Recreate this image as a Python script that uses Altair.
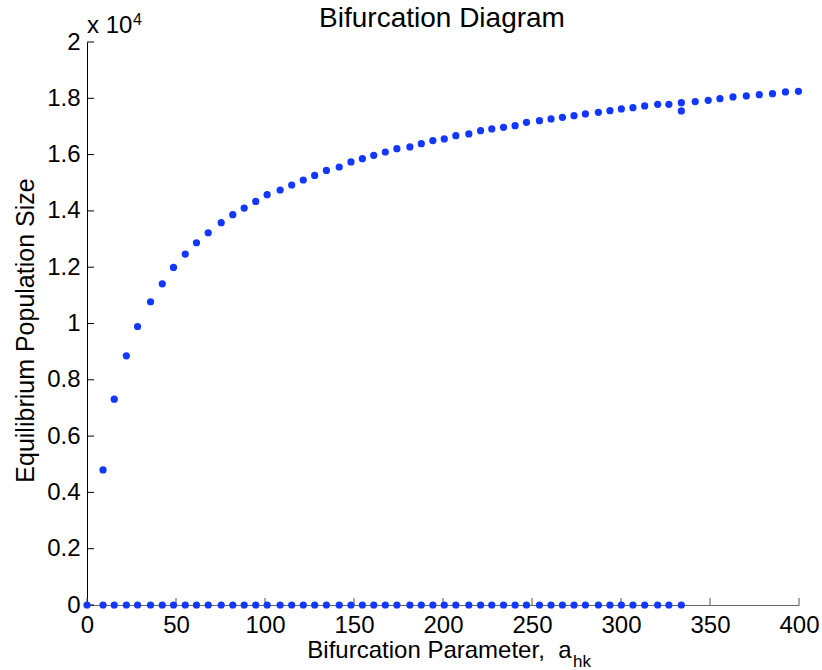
import altair as alt
import pandas as pd

# Bifurcation parameter a_hk for the sampled equilibria
upper_a = [9.0, 15.3, 22.1, 28.4, 35.7, 42.3, 48.6, 55.2, 61.5, 68.1,
           75.4, 81.9, 88.3, 94.8, 101.2, 108.5, 115.0, 121.5, 127.9, 134.5,
           141.7, 148.3, 154.7, 161.1, 167.6, 174.1, 181.4, 187.8, 194.3, 200.7,
           207.2, 214.5, 221.1, 227.4, 234.0, 240.5, 246.9, 254.2, 260.7, 267.1,
           273.6, 280.0, 287.3, 293.8, 300.2, 306.7, 313.3, 320.6, 326.9, 333.9,
           341.7, 349.0, 355.6, 362.9, 370.4, 377.7, 385.1, 392.4, 399.7]

# Non-trivial equilibrium population size
upper_pop = [4800, 7313, 8852, 9893, 10772, 11411, 11991, 12467, 12869, 13224,
             13580, 13864, 14102, 14337, 14575, 14742, 14920, 15098, 15261, 15439,
             15560, 15738, 15855, 15973, 16093, 16210, 16271, 16388, 16500, 16555,
             16673, 16733, 16850, 16911, 16968, 17028, 17146, 17206, 17266, 17323,
             17383, 17444, 17501, 17561, 17622, 17668, 17728, 17785, 17785, 17846,
             17882, 17928, 17988, 18048, 18084, 18130, 18165, 18225, 18248]

# Trivial (extinction) equilibrium, present up to a_hk ~ 334
lower_a = [0.0] + upper_a[:50]
lower_pop = [0] * len(lower_a)

# Extra equilibrium found near the end of the trivial branch
extra_a = [333.9]
extra_pop = [17550]

x_ticks = [0, 50, 100, 150, 200, 250, 300, 350, 400]
y_ticks = [0, 2000, 4000, 6000, 8000, 10000, 12000, 14000, 16000, 18000, 20000]

FONT = "Liberation Sans"
BLUE = "#1238ff"
W, H = 712, 563

points = pd.DataFrame({
    "a": upper_a + lower_a + extra_a,
    "pop": upper_pop + lower_pop + extra_pop,
})

x_scale = alt.Scale(domain=[0, 400], nice=False, zero=False)
y_scale = alt.Scale(domain=[0, 20000], nice=False)

dots = alt.Chart(points).mark_circle(size=52, opacity=1, color=BLUE).encode(
    x=alt.X("a:Q", scale=x_scale,
            axis=alt.Axis(values=x_ticks, title="Bifurcation Parameter,\u00a0\u00a0a",
                          titleFont=FONT, titleFontSize=24, titleFontWeight="normal",
                          titleColor="black", titleX=484, titleY=52,
                          titleAlign="right", titleBaseline="alphabetic",
                          labelFont=FONT, labelFontSize=24, labelColor="black",
                          labelPadding=8, labelFlush=False, labelOverlap=False,
                          tickSize=0, grid=False, domainColor="#666666",
                          domainWidth=1)),
    y=alt.Y("pop:Q", scale=y_scale,
            axis=alt.Axis(values=y_ticks, title="Equilibrium Population Size",
                          titleFont=FONT, titleFontSize=25, titleFontWeight="normal",
                          titleColor="black", titleX=-54, titleY=288,
                          titleAngle=270, titleAlign="center",
                          titleBaseline="alphabetic",
                          labelExpr="format(datum.value / 10000, '.1~f')",
                          labelFont=FONT, labelFontSize=24, labelColor="black",
                          labelPadding=7, labelFlush=False, labelOverlap=False,
                          tickSize=0, grid=False, domainColor="black",
                          domainWidth=1)),
)

# Inward-pointing tick marks
xt = alt.Chart(pd.DataFrame({"a": x_ticks})).mark_rule(color="#555555").encode(
    x=alt.X("a:Q", scale=x_scale), y=alt.value(H), y2=alt.value(H - 7))
yt = alt.Chart(pd.DataFrame({"pop": y_ticks})).mark_rule(color="black").encode(
    y=alt.Y("pop:Q", scale=y_scale), x=alt.value(0), x2=alt.value(7))

def label(txt, x, y, size, align="left"):
    return alt.Chart(pd.DataFrame({"t": [txt]})).mark_text(
        font=FONT, fontSize=size, align=align, baseline="alphabetic", color="black"
    ).encode(text="t:N", x=alt.value(x), y=alt.value(y))

title = label("Bifurcation Diagram", 355, -15, 28, align="center")
sub_hk = label("hk", 486, 625, 17)
exp_base = label("x 10", 0, -9, 24)
exp_pow = label("4", 46, -17, 16)

chart = alt.layer(xt, yt, dots, title, sub_hk, exp_base, exp_pow).properties(
    width=W, height=H,
    autosize=alt.AutoSizeParams(type="none"),
    padding={"left": 87, "top": 42, "right": 23, "bottom": 65},
    background="white",
).configure_view(stroke=None)

chart.save("out.html", embed_options={"renderer": "svg", "actions": False})
